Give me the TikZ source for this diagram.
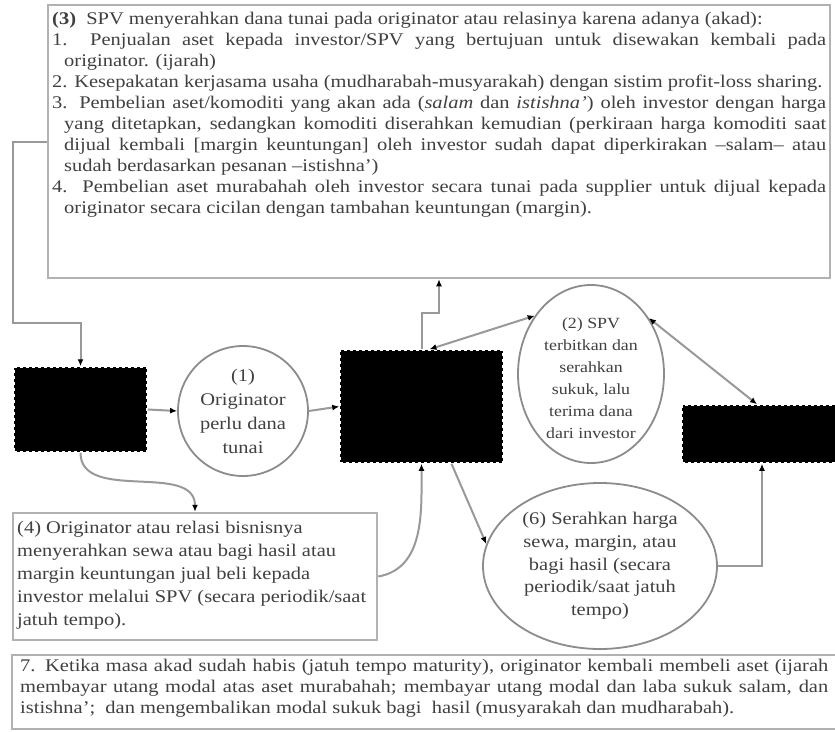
\documentclass[tikz,border=0pt]{standalone}
\usepackage{fontspec}
\setmainfont[FakeStretch=1.15]{Liberation Serif}
\usetikzlibrary{arrows.meta, positioning, shapes.geometric}

% one line of text stretched to a given width
\newcommand{\fullline}[2]{\makebox[#1][s]{#2}}

\begin{document}
\begin{tikzpicture}[x=1pt, y=1pt,
  infobox/.style={draw=black!30, line width=2.5pt, fill=white},
  darkbox/.style={fill=black, draw=white, line width=1.5pt, dash pattern=on 3pt off 3pt},
  ovalbox/.style={ellipse, draw=black!45, line width=1.8pt},
  boxtext/.style={inner sep=0pt, align=left, anchor=north west, text=black!75},
  ovaltext/.style={inner sep=0pt, align=center, text=black!75},
  conn/.style={draw=black!40, line width=2pt},
  onearrow/.style={-{Latex[length=7pt,width=6pt,black]}},
  twoarrow/.style={{Latex[length=7pt,width=6pt,black]}-{Latex[length=7pt,width=6pt,black]}}]

  \clip (0,0) rectangle (835,-731);
  \fill[white] (0,0) rectangle (835,-731);

  % Information boxes
  \node[infobox, minimum width=782pt, minimum height=273pt] (T) at (439,-141.5) {};
  \node[infobox, minimum width=364pt, minimum height=127pt] (D) at (195,-576.5) {};
  \node[infobox, minimum width=833pt, minimum height=74pt] (F) at (428.5,-692) {};

  % Black boxes of the parties
  \foreach \name/\x/\y/\w/\h in {A/80.5/-409.5/133/85, B/421.5/-406.5/163/113, C/762/-434/160/58}
    \node[darkbox, minimum width=\w pt, minimum height=\h pt] (\name) at (\x,\y) {};

  % Process ovals
  \node[ovalbox, minimum width=130pt, minimum height=130pt] (S1) at (243,-411) {};
  \node[ovalbox, minimum width=146pt, minimum height=178pt] (S2) at (591,-374) {};
  \node[ovalbox, minimum width=234pt, minimum height=166pt] (S6) at (600,-566) {};

  % Texts of the boxes
  \node[boxtext, font=\fontsize{17.8}{21}\selectfont] (Ttext) at (52,-12) {%
    \textbf{(3)}\ \ SPV menyerahkan dana tunai pada originator atau relasinya karena adanya (akad):\\
    \fullline{774pt}{1.\ \ Penjualan aset kepada investor/SPV yang bertujuan untuk disewakan kembali pada}\\
    \hspace*{12pt}originator. (ijarah)\\
    2. Kesepakatan kerjasama usaha (mudharabah-musyarakah) dengan sistim profit-loss sharing.\\
    \fullline{774pt}{3. Pembelian aset/komoditi yang akan ada (\textit{salam} dan \textit{istishna'}) oleh investor dengan harga}\\
    \hspace*{12pt}\fullline{762pt}{yang ditetapkan, sedangkan komoditi diserahkan kemudian (perkiraan harga komoditi saat}\\
    \hspace*{12pt}\fullline{762pt}{dijual kembali [margin keuntungan] oleh investor sudah dapat diperkirakan --salam-- atau}\\
    \hspace*{12pt}sudah berdasarkan pesanan --istishna')\\
    \fullline{774pt}{4. Pembelian aset murabahah oleh investor secara tunai pada supplier untuk dijual kepada}\\
    \hspace*{12pt}originator secara cicilan dengan tambahan keuntungan (margin).};
  \node[boxtext, font=\fontsize{17.8}{23}\selectfont] (Dtext) at (17,-521) {%
    (4) Originator atau relasi bisnisnya\\
    menyerahkan sewa atau bagi hasil atau\\
    margin keuntungan jual beli kepada\\
    investor melalui SPV (secara periodik/saat\\
    jatuh tempo).};
  \node[boxtext, font=\fontsize{17.8}{21}\selectfont] (Ftext) at (20,-659) {%
    \fullline{808pt}{7. Ketika masa akad sudah habis (jatuh tempo maturity), originator kembali membeli aset (ijarah}\\
    \fullline{808pt}{membayar utang modal atas aset murabahah; membayar utang modal dan laba sukuk salam, dan}\\
    istishna';\ \ dan mengembalikan modal sukuk bagi\ \ hasil (musyarakah dan mudharabah).};

  % Texts of the ovals
  \node[ovaltext, font=\fontsize{17.8}{24}\selectfont] (S1text) at (S1) {(1)\\Originator\\perlu dana\\tunai};
  \node[ovaltext, font=\fontsize{15.5}{22}\selectfont] (S2text) at ([yshift=-4pt]S2.center) {(2) SPV\\terbitkan dan\\serahkan\\sukuk, lalu\\terima dana\\dari investor};
  \node[ovaltext, font=\fontsize{17.8}{22.7}\selectfont] (S6text) at (S6) {(6) Serahkan harga\\sewa, margin, atau\\bagi hasil (secara\\periodik/saat jatuh\\tempo)};

  % Connectors
  \coordinate (bendA) at (13,-323);
  \coordinate (bendB) at (439,-313);
  \draw[conn, onearrow] (T.west) -| (bendA) -| (A.north);
  \draw[conn, onearrow] (B.north) |- (bendB) -- (T.south);
  \draw[conn, onearrow] (A.east) -- (S1.west);
  \draw[conn, onearrow] (S1.east) -- (B.west);
  \draw[conn, twoarrow] ([xshift=8pt]B.north) -- (S2.134);
  \draw[conn, twoarrow] (S2.44) -- ([xshift=-5pt]C.north);
  \draw[conn, onearrow] ([xshift=30pt]B.south) -- (S6.169);
  \draw[conn, onearrow] (S6.east) -| (C.south);
  \draw[conn, onearrow] (A.south) to[out=-90, in=90] (D.north);
  \draw[conn, onearrow] (D.east) to[out=10, in=-90] (B.south);

\end{tikzpicture}
\end{document}
